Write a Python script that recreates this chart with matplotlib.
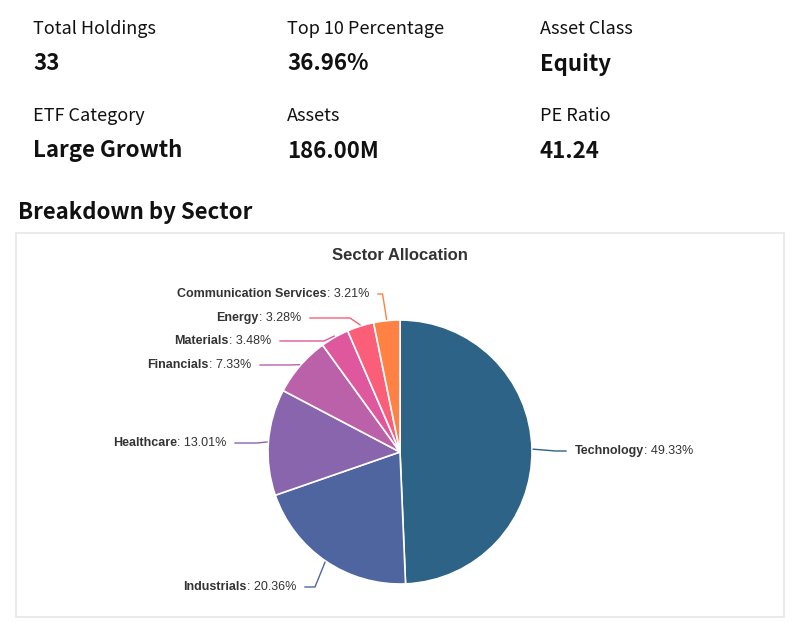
import matplotlib.pyplot as plt
from matplotlib.patches import FancyBboxPatch
import numpy as np

W, H = 800, 627

# summary stats shown above the chart
stat_labels = ["Total Holdings", "Top 10 Percentage", "Asset Class",
               "ETF Category", "Assets", "PE Ratio"]
stat_values = ["33", "36.96%", "Equity", "Large Growth", "186.00M", "41.24"]

# sector breakdown (clockwise from 12 o'clock)
sectors = ["Technology", "Industrials", "Healthcare", "Financials",
           "Materials", "Energy", "Communication Services"]
weights = [49.33, 20.36, 13.01, 7.33, 3.48, 3.28, 3.21]
colors = ["#2c6387", "#4e65a0", "#8865ac", "#bb61aa",
          "#df579d", "#fb5e78", "#ff8143"]

# label layout in pixels: (text anchor x, y, side)
label_pos = [(575, 451, 'L'), (296, 587, 'R'), (226, 443, 'R'),
             (251, 365, 'R'), (271, 341, 'R'), (301, 318, 'R'),
             (369, 294, 'R')]

CX, CY, R = 400, 452, 132
TXT = "#333333"


def fx(px):
    return px / W


def fy(py):
    return 1 - py / H


def to_data(px, py):
    return (px - CX) / R, (CY - py) / R


fig = plt.figure(figsize=(W / 100, H / 100), dpi=100)
fig.patch.set_facecolor("white")

stat_font = ["Noto Sans CJK KR", "DejaVu Sans"]
col_x = [33, 287, 540]
for i, (lab, val) in enumerate(zip(stat_labels, stat_values)):
    r, c = divmod(i, 3)
    y0 = 29 + r * 87
    fig.text(fx(col_x[c]), fy(y0), lab, fontsize=13, family=stat_font,
             color="#111111", va="center", ha="left")
    fig.text(fx(col_x[c]), fy(y0 + 35), val, fontsize=16, family=stat_font,
             weight="bold", color="#111111", va="center", ha="left")

fig.text(fx(18), fy(213), "Breakdown by Sector", fontsize=16,
         family=stat_font, weight="bold", color="#111111", va="center")

# chart card
card = FancyBboxPatch((fx(16), fy(617)), fx(784) - fx(16), fy(233) - fy(617),
                      boxstyle="square,pad=0", transform=fig.transFigure,
                      facecolor="white", edgecolor="#e6e6e6", linewidth=1.2,
                      zorder=-5)
fig.patches.append(card)

fig.text(fx(400), fy(255), "Sector Allocation", fontsize=12,
         family="Liberation Sans", weight="bold", color=TXT,
         ha="center", va="center")

ax = fig.add_axes([fx(CX - R), fy(CY + R), 2 * R / W, 2 * R / H])
ax.set_zorder(2)
ax.patch.set_visible(False)
wedges, _ = ax.pie(weights, colors=colors, startangle=90, counterclock=False,
                   radius=1, wedgeprops=dict(edgecolor="white", linewidth=1.2))
ax.set_xlim(-1, 1)
ax.set_ylim(-1, 1)
ax.set_aspect("auto")
ax.axis("off")

for w, name, val, col, (lx, ly, side) in zip(wedges, sectors, weights,
                                             colors, label_pos):
    mid = np.deg2rad((w.theta1 + w.theta2) / 2)
    p0 = (np.cos(mid), np.sin(mid))
    p0 = (p0[0] * 1.01, p0[1] * 1.01)
    tx, ty = to_data(lx, ly)
    gap = 9 / R
    if side == 'L':
        end = tx - gap
        bend = (end - 10 / R, ty)
    else:
        end = tx + gap
        bend = (min(p0[0] - 4 / R, max(end + 6 / R, p0[0] - 10 / R)), ty)
    ax.plot([p0[0], bend[0], end], [p0[1], bend[1], ty], color=col,
            linewidth=1, clip_on=False, solid_joinstyle="miter")

    val_txt = f": {val:.2f}%"
    if side == 'L':
        t1 = ax.text(tx, ty, name, fontsize=9, family="Liberation Sans",
                     weight="bold", color=TXT, ha="left", va="center",
                     clip_on=False)
        ax.annotate(val_txt, xy=(1, 0.5), xycoords=t1, fontsize=9,
                    family="Liberation Sans", color=TXT, ha="left",
                    va="center", annotation_clip=False)
    else:
        t1 = ax.text(tx, ty, val_txt, fontsize=9, family="Liberation Sans",
                     color=TXT, ha="right", va="center", clip_on=False)
        ax.annotate(name, xy=(0, 0.5), xycoords=t1, fontsize=9,
                    family="Liberation Sans", weight="bold", color=TXT,
                    ha="right", va="center", annotation_clip=False)

fig.savefig("out.png", dpi=100, facecolor="white")
